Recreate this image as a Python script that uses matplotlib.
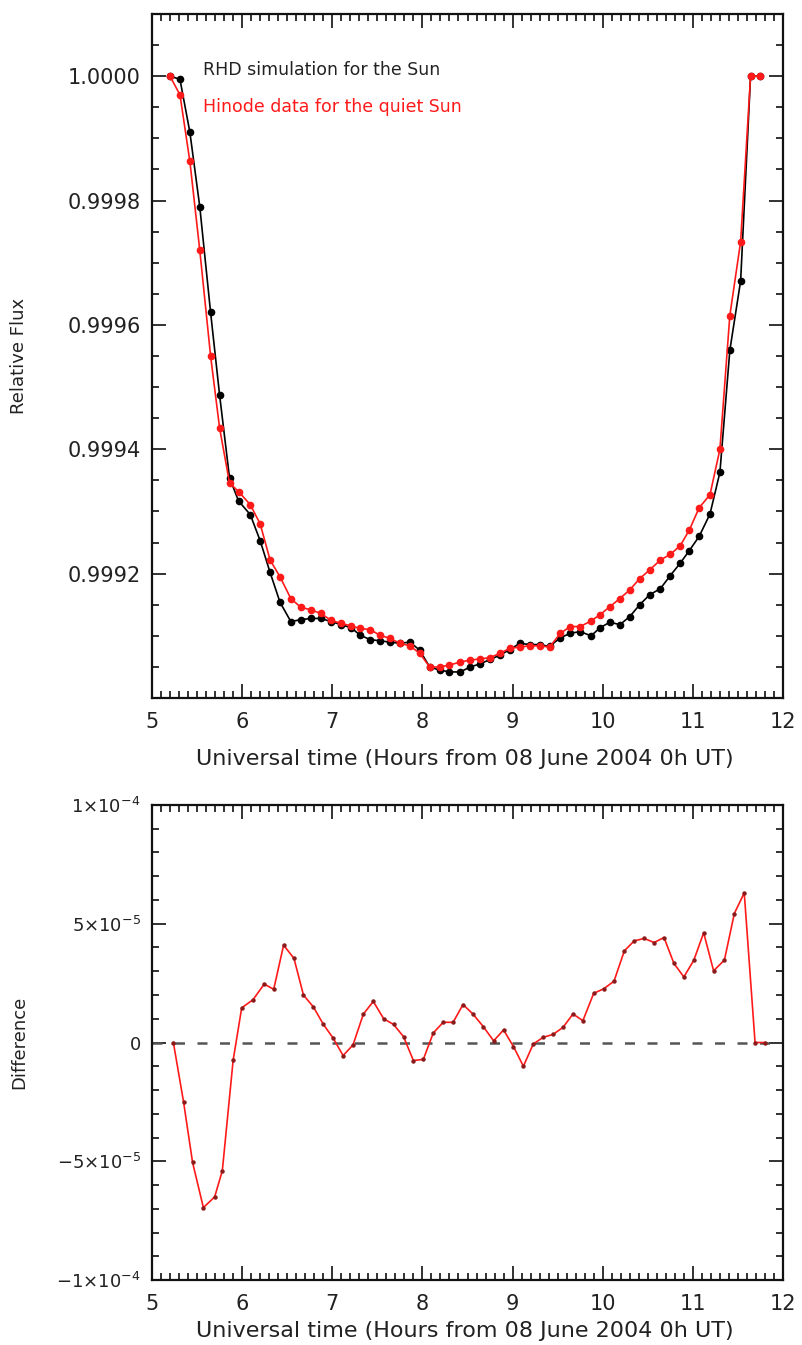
import matplotlib
matplotlib.use("Agg")
import matplotlib.pyplot as plt
from matplotlib.ticker import MultipleLocator, FixedLocator, FixedFormatter, FormatStrFormatter

plt.rcParams['font.family'] = ['DejaVu Sans']
plt.rcParams['mathtext.fontset'] = 'dejavusans'

# 1. data
# top panel: relative flux (hours UT)
t_flux = [5.20, 5.31, 5.42, 5.53, 5.65, 5.75, 5.86, 5.96, 6.09, 6.20,
          6.31, 6.42, 6.54, 6.65, 6.76, 6.875, 6.985, 7.10, 7.21, 7.31,
          7.42, 7.53, 7.64, 7.75, 7.86, 7.97, 8.08, 8.19, 8.30, 8.42,
          8.53, 8.64, 8.75, 8.86, 8.97, 9.08, 9.19, 9.30, 9.41, 9.53,
          9.64, 9.75, 9.87, 9.97, 10.08, 10.19, 10.30, 10.41, 10.52, 10.64,
          10.75, 10.86, 10.96, 11.07, 11.19, 11.30, 11.41, 11.53, 11.64, 11.75]

rhd_flux = [1.000000, 0.999995, 0.999910, 0.999790, 0.999620, 0.999487, 0.999354, 0.999317, 0.999295, 0.999253,
            0.999202, 0.999154, 0.999123, 0.999126, 0.999128, 0.999128, 0.999123, 0.999118, 0.999113, 0.999101,
            0.999094, 0.999092, 0.999090, 0.999088, 0.999090, 0.999077, 0.999050, 0.999045, 0.999042, 0.999042,
            0.999050, 0.999055, 0.999062, 0.999069, 0.999078, 0.999088, 0.999086, 0.999086, 0.999083, 0.999097,
            0.999104, 0.999107, 0.999100, 0.999113, 0.999122, 0.999118, 0.999131, 0.999150, 0.999166, 0.999176,
            0.999197, 0.999217, 0.999237, 0.999260, 0.999296, 0.999363, 0.999559, 0.999671, 1.000000, 1.000000]

hinode_flux = [1.000000, 0.999970, 0.999863, 0.999720, 0.999550, 0.999434, 0.999346, 0.999332, 0.999311, 0.999280,
               0.999222, 0.999195, 0.999160, 0.999146, 0.999142, 0.999136, 0.999125, 0.999120, 0.999116, 0.999112,
               0.999110, 0.999101, 0.999096, 0.999088, 0.999084, 0.999072, 0.999050, 0.999050, 0.999053, 0.999058,
               0.999061, 0.999063, 0.999065, 0.999072, 0.999080, 0.999082, 0.999084, 0.999084, 0.999082, 0.999104,
               0.999115, 0.999115, 0.999124, 0.999134, 0.999147, 0.999160, 0.999174, 0.999192, 0.999206, 0.999222,
               0.999231, 0.999245, 0.999270, 0.999306, 0.999327, 0.999400, 0.999615, 0.999734, 1.000000, 1.000000]

# bottom panel: difference (Hinode - RHD)
t_diff = [5.237, 5.35, 5.45, 5.57, 5.695, 5.78, 5.90, 5.995, 6.12, 6.245,
          6.35, 6.46, 6.575, 6.68, 6.79, 6.90, 7.01, 7.12, 7.23, 7.345,
          7.455, 7.57, 7.68, 7.79, 7.90, 8.01, 8.12, 8.23, 8.34, 8.45,
          8.56, 8.675, 8.79, 8.90, 9.01, 9.12, 9.23, 9.34, 9.45, 9.56,
          9.67, 9.78, 9.90, 10.01, 10.125, 10.24, 10.35, 10.46, 10.57, 10.68,
          10.79, 10.90, 11.01, 11.12, 11.23, 11.35, 11.46, 11.57, 11.69, 11.80]

diff = [0.0, -2.5e-5, -5.05e-5, -6.95e-5, -6.5e-5, -5.4e-5, -0.75e-5, 1.46e-5, 1.8e-5, 2.46e-5,
        2.24e-5, 4.1e-5, 3.54e-5, 2.0e-5, 1.5e-5, 0.77e-5, 0.18e-5, -0.55e-5, -0.1e-5, 1.2e-5,
        1.73e-5, 1.0e-5, 0.76e-5, 0.25e-5, -0.76e-5, -0.71e-5, 0.4e-5, 0.85e-5, 0.85e-5, 1.6e-5,
        1.2e-5, 0.67e-5, 0.07e-5, 0.53e-5, -0.17e-5, -1.0e-5, -0.06e-5, 0.22e-5, 0.34e-5, 0.64e-5,
        1.2e-5, 0.92e-5, 2.07e-5, 2.26e-5, 2.58e-5, 3.86e-5, 4.28e-5, 4.38e-5, 4.21e-5, 4.42e-5,
        3.33e-5, 2.76e-5, 3.46e-5, 4.62e-5, 3.02e-5, 3.47e-5, 5.43e-5, 6.3e-5, 0.0, 0.0]

flux_ticks = [0.9992, 0.9994, 0.9996, 0.9998, 1.0000]
diff_ticks = [-1e-4, -5e-5, 0, 5e-5, 1e-4]
diff_labels = [r'$-1{\times}10^{-4}$', r'$-5{\times}10^{-5}$', '0',
               r'$5{\times}10^{-5}$', r'$1{\times}10^{-4}$']
xlabel = "Universal time (Hours from 08 June 2004 0h UT)"

txt = '#222222'
red = '#ff1a1a'

# 2. figure and axes
fig = plt.figure(figsize=(8.03, 13.45), dpi=100)
ax1 = fig.add_axes([0.1893, 0.4810, 0.7858, 0.5086])
ax2 = fig.add_axes([0.1893, 0.0483, 0.7858, 0.3532])


def style(ax):
    ax.set_xlim(5, 12)
    ax.xaxis.set_major_locator(MultipleLocator(1))
    ax.xaxis.set_minor_locator(MultipleLocator(0.1))
    ax.tick_params(which='both', direction='in', top=True, right=True,
                   width=1.3, color=txt, labelcolor=txt, labelsize=15)
    ax.tick_params(which='major', length=10)
    ax.tick_params(which='minor', length=5)
    ax.tick_params(axis='x', pad=10)
    ax.tick_params(axis='y', pad=8)
    for s in ax.spines.values():
        s.set_linewidth(1.6)
        s.set_color('#111111')


# 3. top panel: light curves
ax1.plot(t_flux, rhd_flux, '-o', color='black', lw=1.2, ms=4.5)
ax1.plot(t_flux, hinode_flux, '-o', color=red, lw=1.2, ms=4.5)
style(ax1)
ax1.set_ylim(0.9990, 1.0001)
ax1.yaxis.set_major_locator(FixedLocator(flux_ticks))
ax1.yaxis.set_minor_locator(MultipleLocator(0.00005))
ax1.yaxis.set_major_formatter(FormatStrFormatter('%.4f'))
ax1.set_ylabel("Relative Flux", fontsize=13, color=txt)
ax1.yaxis.set_label_coords(-0.1965, 0.5)
ax1.set_xlabel(xlabel, fontsize=16, color=txt)
ax1.xaxis.set_label_coords(0.496, -0.0746)
ax1.text(0.081, 0.918, "RHD simulation for the Sun", transform=ax1.transAxes,
         fontsize=12.5, color=txt, va='center', ha='left')
ax1.text(0.081, 0.864, "Hinode data for the quiet Sun", transform=ax1.transAxes,
         fontsize=12.5, color=red, va='center', ha='left')

# 4. bottom panel: difference
ax2.axhline(0, color='#555555', lw=1.8, ls=(0, (4, 5)))
ax2.plot(t_diff, diff, '-', color=red, lw=1.2)
ax2.plot(t_diff, diff, 'o', color='#8b1a1a', ms=2.2)
style(ax2)
ax2.set_ylim(-1e-4, 1e-4)
ax2.yaxis.set_major_locator(FixedLocator(diff_ticks))
ax2.yaxis.set_major_formatter(FixedFormatter(diff_labels))
ax2.yaxis.set_minor_locator(MultipleLocator(1e-5))
ax2.tick_params(axis='y', labelsize=13)
ax2.set_ylabel("Difference", fontsize=13, color=txt)
ax2.yaxis.set_label_coords(-0.1965, 0.5)
ax2.set_xlabel(xlabel, fontsize=16, color=txt)
ax2.xaxis.set_label_coords(0.496, -0.086)

plt.savefig("out.png", dpi=100)
plt.close()
